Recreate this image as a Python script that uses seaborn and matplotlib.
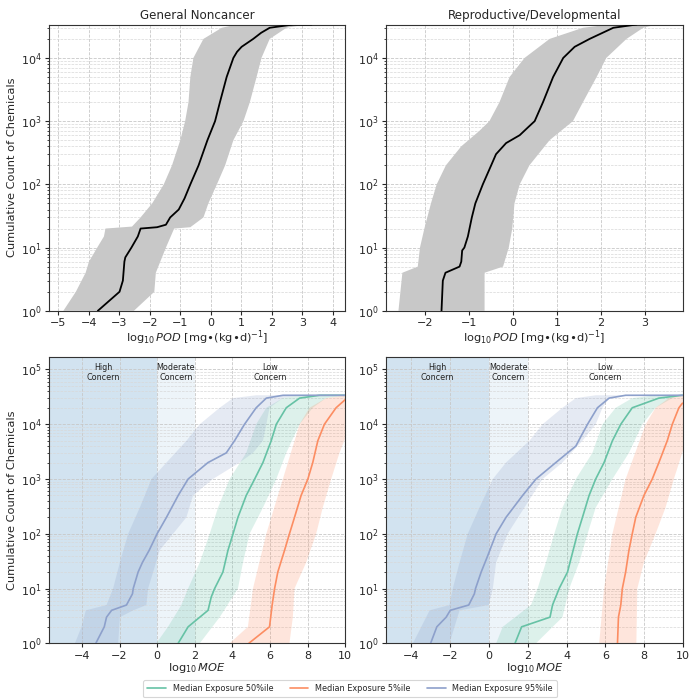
import numpy as np
import pandas as pd
import matplotlib
matplotlib.use("Agg")
import matplotlib.pyplot as plt
import seaborn as sns
from matplotlib.ticker import LogLocator, FixedLocator

sns.set_style("ticks")
plt.rcParams['font.family'] = ['DejaVu Sans']

N = 33800

# ---------------- Top row: POD distributions ----------------
titles = ["General Noncancer", "Reproductive/Developmental"]

# General Noncancer
gn_med_y = [1, 2, 3, 6, 7, 10, 15, 20, 21, 23, 30, 40, 60, 100, 200, 500, 1000, 2000, 5000, 10000, 12500, 15000, 20000, 25000, 30000, N, N]
gn_med_x = [-3.70, -2.99, -2.88, -2.83, -2.80, -2.60, -2.39, -2.30, -1.76, -1.47, -1.33, -1.05, -0.86, -0.67, -0.40, -0.11, 0.14, 0.30, 0.52, 0.74, 0.86, 1.01, 1.39, 1.65, 1.93, 2.7, 3.3]
gn_lo_y = [1, 2, 4, 6, 10, 15, 20, 21.5, 30, 50, 100, 200, 500, 1000, 2000, 5000, 10000, 20000, 30000, N]
gn_lo_x = [-4.83, -4.42, -4.10, -3.99, -3.72, -3.50, -3.45, -2.58, -2.30, -1.92, -1.54, -1.27, -1.00, -0.84, -0.73, -0.67, -0.57, -0.24, 0.36, 0.85]
gn_hi_y = [1, 2, 4, 10, 20, 21, 25, 30, 50, 100, 200, 500, 1000, 2000, 5000, 10000, 20000, 30000, N]
gn_hi_x = [-2.52, -1.85, -1.80, -1.47, -1.20, -0.67, -0.46, -0.24, -0.08, 0.20, 0.47, 0.74, 1.07, 1.28, 1.50, 1.66, 1.93, 2.48, 3.13]

# Reproductive/Developmental
rd_med_y = [1, 3, 4, 5, 6, 9, 10, 15, 30, 50, 100, 200, 300, 450, 600, 800, 1000, 2000, 5000, 10000, 15000, 20000, 30000, N]
rd_med_x = [-1.63, -1.60, -1.54, -1.22, -1.18, -1.16, -1.11, -1.03, -0.94, -0.86, -0.69, -0.50, -0.39, -0.16, 0.15, 0.34, 0.49, 0.68, 0.91, 1.14, 1.40, 1.74, 2.28, 2.81]
rd_lo_y = [1, 4, 5, 10, 20, 50, 100, 200, 400, 700, 1000, 2000, 5000, 10000, 20000, 30000, N]
rd_lo_x = [-2.61, -2.52, -2.17, -2.12, -2.02, -1.87, -1.74, -1.53, -1.18, -0.77, -0.54, -0.31, -0.08, 0.26, 0.83, 1.59, 2.20]
rd_hi_y = [1, 4, 5, 10, 20, 50, 100, 200, 500, 1000, 2000, 5000, 10000, 20000, 30000, N]
rd_hi_x = [-0.65, -0.65, -0.23, -0.10, -0.02, 0.03, 0.15, 0.37, 0.83, 1.36, 1.59, 1.90, 2.12, 2.58, 2.96, 3.27]

# ---------------- Bottom row: MOE distributions ----------------
series_labels = ["Median Exposure 50%ile", "Median Exposure 5%ile", "Median Exposure 95%ile"]
series_colors = ["#66c2a5", "#fc8d62", "#8da0cb"]
concern_labels = ["High\nConcern", "Moderate\nConcern", "Low\nConcern"]

# General Noncancer MOE
gn50_y = [1, 2, 3, 4, 7, 10, 20, 50, 100, 200, 500, 1000, 2000, 5000, 10000, 20000, 30000, N, N]
gn50_x = [1.12, 1.65, 2.27, 2.71, 2.88, 3.06, 3.50, 3.77, 4.04, 4.30, 4.74, 5.19, 5.63, 6.07, 6.34, 6.87, 7.58, 8.64, 10.5]
gn50_lo_y = [1, 2, 5, 10, 30, 100, 300, 1000, 3000, 10000, 20000, 30000, N]
gn50_lo_x = [-0.04, 0.58, 1.29, 1.65, 2.27, 2.80, 3.24, 3.86, 4.74, 5.27, 5.81, 6.69, 7.58]
gn50_hi_y = [1, 3, 10, 30, 100, 300, 1000, 3000, 10000, 20000, 30000, N]
gn50_hi_x = [2.27, 3.33, 4.30, 4.57, 4.92, 5.63, 6.34, 6.87, 7.58, 8.28, 8.99, 10.0]

gn5_y = [1, 2, 5, 10, 20, 50, 100, 200, 500, 1000, 2000, 5000, 10000, 20000, 28000, 31000]
gn5_x = [4.88, 5.98, 6.12, 6.25, 6.42, 6.78, 7.04, 7.31, 7.66, 8.02, 8.28, 8.55, 8.90, 9.52, 10.0, 10.5]
gn5_lo_y = [1, 2, 10, 100, 1000, 10000, 20000, 30000, N]
gn5_lo_x = [3.86, 4.83, 5.10, 5.81, 6.69, 7.58, 8.11, 8.99, 10.0]
gn5_hi_y = [1, 3, 10, 30, 100, 300, 1000, 3000, 10000, N]
gn5_hi_x = [7.04, 7.22, 7.31, 7.93, 8.46, 8.81, 9.26, 9.70, 10.3, 11.0]

gn95_y = [1, 2, 3, 4, 5, 8, 10, 20, 30, 50, 100, 200, 500, 1000, 2000, 3000, 5000, 10000, 20000, 30000, N, N]
gn95_x = [-3.26, -2.81, -2.69, -2.42, -1.63, -1.31, -1.27, -1.01, -0.78, -0.42, 0.00, 0.50, 1.12, 1.65, 2.71, 3.68, 4.12, 4.65, 5.27, 5.81, 6.70, 10.5]
gn95_lo_y = [1, 2, 4, 5, 10, 30, 100, 300, 1000, 2000, 5000, 10000, 20000, 30000, N]
gn95_lo_x = [-4.37, -4.02, -3.79, -2.69, -2.34, -1.98, -1.54, -0.92, -0.30, 0.50, 1.56, 2.27, 3.33, 4.04, 5.27]
gn95_hi_y = [1, 3, 4, 5, 10, 20, 50, 100, 200, 500, 1000, 2000, 3000, 5000, 10000, 20000, 30000, N]
gn95_hi_x = [-2.07, -1.98, -1.27, -0.57, -0.48, -0.21, 0.14, 0.85, 1.56, 1.91, 2.97, 4.39, 5.10, 5.63, 5.81, 5.98, 6.69, 7.58]

# Reproductive/Developmental MOE
rd50_y = [1, 2, 3, 5, 10, 20, 50, 100, 200, 500, 1000, 2000, 5000, 10000, 20000, 30000, N, N]
rd50_x = [1.35, 1.69, 3.15, 3.28, 3.62, 4.05, 4.34, 4.56, 4.82, 5.16, 5.50, 5.93, 6.36, 6.79, 7.38, 8.75, 9.95, 10.5]
rd50_lo_y = [1, 2, 5, 10, 30, 100, 300, 1000, 3000, 10000, 20000, 30000, N]
rd50_lo_x = [0.38, 0.72, 2.17, 2.51, 2.94, 3.37, 3.79, 4.48, 5.33, 5.85, 6.53, 7.38, 8.58]
rd50_hi_y = [1, 3, 10, 30, 100, 300, 1000, 3000, 10000, 20000, 30000, N]
rd50_hi_x = [2.43, 3.79, 4.14, 4.65, 5.08, 5.50, 6.36, 7.21, 7.90, 8.58, 9.44, 9.95]

rd5_y = [1, 3, 5, 10, 20, 50, 100, 200, 500, 1000, 2000, 5000, 10000, 20000, 24000, 28000]
rd5_x = [6.62, 6.67, 6.79, 6.87, 7.04, 7.21, 7.38, 7.56, 7.98, 8.41, 8.75, 9.18, 9.44, 9.78, 9.95, 10.5]
rd5_lo_y = [1, 10, 100, 1000, 10000, 20000, 30000, N]
rd5_lo_x = [5.68, 5.93, 6.36, 7.04, 8.07, 8.58, 9.27, 9.95]
rd5_hi_y = [1, 10, 30, 100, 300, 1000, 3000, 10000, N]
rd5_hi_x = [7.59, 7.64, 7.98, 8.58, 9.09, 9.52, 9.95, 10.5, 11.0]

rd95_y = [1, 2, 3, 4, 5, 8, 10, 20, 40, 100, 200, 500, 1000, 2000, 4000, 6000, 10000, 20000, 30000, N, N]
rd95_x = [-2.99, -2.67, -2.19, -1.98, -1.03, -0.74, -0.68, -0.39, -0.05, 0.38, 0.89, 1.74, 2.43, 3.45, 4.48, 4.74, 5.08, 5.59, 6.19, 7.04, 10.5]
rd95_lo_y = [1, 2, 4, 5, 10, 30, 100, 300, 1000, 2000, 5000, 10000, 20000, 30000, N]
rd95_lo_x = [-3.90, -3.47, -3.04, -2.02, -1.85, -1.50, -1.08, -0.48, 0.21, 0.89, 2.09, 2.77, 3.79, 4.48, 5.50]
rd95_hi_y = [1, 4, 5, 10, 30, 100, 300, 1000, 2000, 5000, 10000, 20000, 30000, N]
rd95_hi_x = [-2.02, -1.50, 0.00, 0.21, 0.38, 0.97, 1.83, 2.77, 3.79, 4.82, 5.50, 5.85, 6.19, 7.21]

# ---------------- Figure ----------------
fig = plt.figure(figsize=(7, 7), dpi=100)
L1, W1 = 0.070, 0.423
L2, W2 = 0.551, 0.425
ax_tl = fig.add_axes([L1, 0.556, W1, 0.409])
ax_tr = fig.add_axes([L2, 0.556, W2, 0.409])
ax_bl = fig.add_axes([L1, 0.081, W1, 0.409])
ax_br = fig.add_axes([L2, 0.081, W2, 0.409])

TICK_FS = 8.0
LAB_FS = 8.2
grid_kw = dict(color="#c8c8c8", linestyle="--", linewidth=0.6)


def style_axis(ax):
    ax.set_yscale("log")
    ax.yaxis.set_major_locator(LogLocator(base=10, numticks=10))
    ax.yaxis.set_minor_locator(LogLocator(base=10, subs=np.arange(2, 10), numticks=20))
    ax.grid(True, which="major", axis="both", **grid_kw)
    ax.grid(True, which="minor", axis="y", color="#d8d8d8", linestyle="--", linewidth=0.5)
    ax.tick_params(axis="both", which="major", labelsize=TICK_FS, length=3, width=0.8, pad=2.2)
    ax.tick_params(axis="y", which="minor", length=1.8, width=0.6)
    for s in ax.spines.values():
        s.set_color("#333333")
        s.set_linewidth(0.8)
    ax.set_axisbelow(True)


def band(ax, lo_x, lo_y, hi_x, hi_y, color, alpha):
    px = list(lo_x) + list(hi_x)[::-1]
    py = list(lo_y) + list(hi_y)[::-1]
    ax.fill(px, py, color=color, alpha=alpha, linewidth=0, zorder=1)


pod_label = r"$\log_{10}\mathit{POD}$ [mg$\bullet$(kg$\bullet$d)$^{-1}$]"
top_data = [
    (ax_tl, gn_med_x, gn_med_y, gn_lo_x, gn_lo_y, gn_hi_x, gn_hi_y, (-5.3, 4.4), np.arange(-5, 5)),
    (ax_tr, rd_med_x, rd_med_y, rd_lo_x, rd_lo_y, rd_hi_x, rd_hi_y, (-2.9, 3.87), np.arange(-2, 4)),
]
for i, (ax, mx, my, lx, ly, hx, hy, xlim, xt) in enumerate(top_data):
    style_axis(ax)
    band(ax, lx, ly, hx, hy, "#c8c8c8", 1.0)
    sns.lineplot(x=mx, y=my, sort=False, estimator=None, color="black", linewidth=1.3, ax=ax, zorder=3)
    ax.set_xlim(*xlim)
    ax.set_ylim(1, N)
    ax.xaxis.set_major_locator(FixedLocator(xt))
    ax.set_title(titles[i], fontsize=8.6, pad=4)
    ax.set_xlabel(pod_label, fontsize=LAB_FS, labelpad=0.5)
    ax.set_ylabel("")

ax_tl.set_ylabel("Cumulative Count of Chemicals", fontsize=LAB_FS, labelpad=3)

bottom_data = [
    (ax_bl, -5.75,
     [(gn50_x, gn50_y, gn50_lo_x, gn50_lo_y, gn50_hi_x, gn50_hi_y),
      (gn5_x, gn5_y, gn5_lo_x, gn5_lo_y, gn5_hi_x, gn5_hi_y),
      (gn95_x, gn95_y, gn95_lo_x, gn95_lo_y, gn95_hi_x, gn95_hi_y)]),
    (ax_br, -5.3,
     [(rd50_x, rd50_y, rd50_lo_x, rd50_lo_y, rd50_hi_x, rd50_hi_y),
      (rd5_x, rd5_y, rd5_lo_x, rd5_lo_y, rd5_hi_x, rd5_hi_y),
      (rd95_x, rd95_y, rd95_lo_x, rd95_lo_y, rd95_hi_x, rd95_hi_y)]),
]
handles = []
for ax, xmin, series in bottom_data:
    style_axis(ax)
    ax.axvspan(xmin, 0, color="tab:blue", alpha=0.2, linewidth=0, zorder=0.5)
    ax.axvspan(0, 2, color="tab:blue", alpha=0.08, linewidth=0, zorder=0.5)
    ymax = 5 * N
    for (cx, cl) in zip([(xmin + 0) / 2, 1, 6], concern_labels):
        ax.text(cx, 1.3e5, cl, ha="center", va="top", fontsize=5.8, color="#222222",
                linespacing=1.05, zorder=5)
    for (mx, my, lx, ly, hx, hy), col, lab in zip(series, series_colors, series_labels):
        band(ax, lx, ly, hx, hy, col, 0.22)
    for (mx, my, lx, ly, hx, hy), col, lab in zip(series, series_colors, series_labels):
        sns.lineplot(x=mx, y=my, sort=False, estimator=None, color=col, linewidth=1.2, ax=ax, zorder=3, label=lab)
    handles, labels = ax.get_legend_handles_labels()
    if ax.get_legend() is not None:
        ax.get_legend().remove()
    ax.set_xlim(xmin, 10)
    ax.set_ylim(1, ymax)
    ax.xaxis.set_major_locator(FixedLocator(np.arange(-4, 11, 2)))
    ax.set_xlabel(r"$\log_{10}\mathit{MOE}$", fontsize=LAB_FS, labelpad=0.5)
    ax.set_ylabel("")

ax_bl.set_ylabel("Cumulative Count of Chemicals", fontsize=LAB_FS, labelpad=3)

leg = fig.legend(handles, labels, loc="center", bbox_to_anchor=(0.5, 0.016), ncol=3,
                 fontsize=5.9, frameon=True, handlelength=2.3, columnspacing=2.0,
                 borderpad=0.5)
leg.get_frame().set_edgecolor("#cccccc")
leg.get_frame().set_linewidth(0.8)

fig.savefig("out.png", dpi=100)
